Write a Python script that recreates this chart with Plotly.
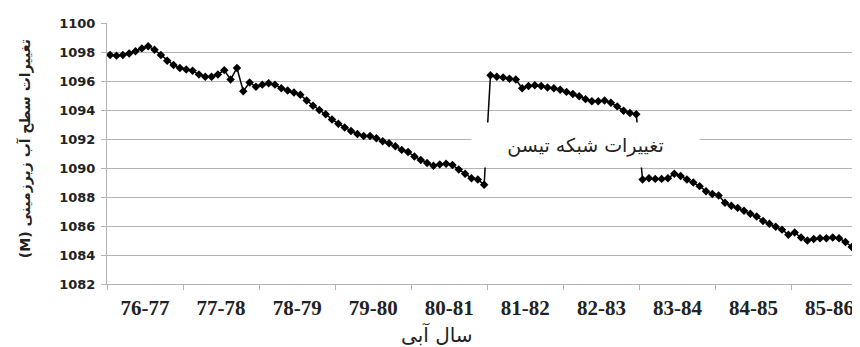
import plotly.graph_objects as go

# ---- data ----
water_years = ["76-77", "77-78", "78-79", "79-80", "80-81",
               "81-82", "82-83", "83-84", "84-85", "85-86"]

level_76_77 = [1097.8, 1097.75, 1097.8, 1097.9, 1098.05, 1098.25, 1098.4, 1098.15, 1097.8, 1097.4, 1097.1, 1096.9]
level_77_78 = [1096.8, 1096.7, 1096.45, 1096.3, 1096.3, 1096.45, 1096.75, 1096.1, 1096.9, 1095.3, 1095.9, 1095.6]
level_78_79 = [1095.75, 1095.85, 1095.75, 1095.5, 1095.35, 1095.2, 1095.05, 1094.65, 1094.3, 1094.0, 1093.7, 1093.35]
level_79_80 = [1093.05, 1092.8, 1092.55, 1092.35, 1092.2, 1092.2, 1092.05, 1091.85, 1091.7, 1091.5, 1091.25, 1091.1]
level_80_81 = [1090.8, 1090.55, 1090.35, 1090.15, 1090.25, 1090.3, 1090.2, 1089.9, 1089.6, 1089.3, 1089.2, 1088.85]
level_81_82 = [1096.4, 1096.3, 1096.25, 1096.15, 1096.1, 1095.5, 1095.65, 1095.7, 1095.65, 1095.55, 1095.5, 1095.4]
level_82_83 = [1095.25, 1095.1, 1094.95, 1094.75, 1094.6, 1094.6, 1094.65, 1094.5, 1094.25, 1093.95, 1093.8, 1093.7]
level_83_84 = [1089.2, 1089.3, 1089.25, 1089.25, 1089.3, 1089.6, 1089.45, 1089.2, 1089.0, 1088.75, 1088.4, 1088.2]
level_84_85 = [1088.1, 1087.6, 1087.4, 1087.25, 1087.05, 1086.85, 1086.65, 1086.35, 1086.15, 1085.95, 1085.75, 1085.4]
level_85_86 = [1085.55, 1085.2, 1085.0, 1085.1, 1085.15, 1085.15, 1085.2, 1085.15, 1084.9, 1084.55, 1084.15, 1083.8]

y_ticks = [1082, 1084, 1086, 1088, 1090, 1092, 1094, 1096, 1098, 1100]

y_title = "(M) تغییرات سطح آب زیرزمینی"
x_title = "سال آبی"
note_text = "تغییرات شبکه تیسن"

# ---- build ----
levels = (level_76_77 + level_77_78 + level_78_79 + level_79_80 + level_80_81 +
          level_81_82 + level_82_83 + level_83_84 + level_84_85 + level_85_86)
months = list(range(len(levels)))
n_years = len(water_years)
boundaries = [12 * k - 0.5 for k in range(n_years + 1)]
centers = [12 * k + 5.5 for k in range(n_years)]
x_range = [-0.5, 118.3]

grid_c = "#b4b4b4"

fig = go.Figure()
fig.add_trace(go.Scatter(
    x=months, y=levels, mode="lines+markers",
    line=dict(color="black", width=1.5),
    marker=dict(symbol="diamond", size=6.5, color="black"),
    showlegend=False, hoverinfo="skip",
))
# invisible trace to activate the label axis
fig.add_trace(go.Scatter(x=[centers[0]], y=[levels[0]], xaxis="x2",
                         mode="markers", marker=dict(opacity=0),
                         showlegend=False, hoverinfo="skip"))

fig.update_layout(
    width=860, height=347,
    margin=dict(l=99, r=8, t=15, b=71),
    paper_bgcolor="white", plot_bgcolor="white",
    xaxis=dict(
        range=x_range, tickmode="array", tickvals=boundaries,
        ticktext=["" for _ in boundaries],
        ticks="outside", ticklen=5, tickcolor=grid_c,
        showgrid=False, showline=True, linecolor=grid_c, linewidth=1,
        zeroline=False,
    ),
    xaxis2=dict(
        range=x_range, overlaying="x", side="bottom", anchor="y",
        tickmode="array", tickvals=centers, ticktext=water_years,
        ticks="", showgrid=False, showline=False, zeroline=False,
        ticklabelstandoff=9,
        tickfont=dict(family="Liberation Serif", size=21, color="#222222", weight="bold"),
    ),
    yaxis=dict(
        range=[1082, 1100], tickmode="array", tickvals=y_ticks,
        ticks="outside", ticklen=5, tickcolor=grid_c,
        showgrid=True, gridcolor=grid_c, gridwidth=1,
        showline=True, linecolor=grid_c, linewidth=1, zeroline=False,
        ticklabelstandoff=3,
        tickfont=dict(family="DejaVu Sans", size=13, color="#222222", weight="bold"),
    ),
)

fig.add_annotation(
    x=75.0, y=1091.6, xref="x", yref="y", text=note_text, showarrow=False,
    width=227, height=44, bgcolor="white", borderpad=0,
    font=dict(family="DejaVu Sans", size=19, color="#222222"),
)
fig.add_annotation(
    x=-0.109, y=0.52, xref="paper", yref="paper", text=y_title, showarrow=False,
    textangle=-90, xanchor="center", yanchor="middle",
    font=dict(family="DejaVu Sans", size=14, color="#222222", weight="bold"),
)
fig.add_annotation(
    x=(437 - 107) / 753, y=-0.195, xref="paper", yref="paper", text=x_title,
    showarrow=False, xanchor="center", yanchor="middle",
    font=dict(family="DejaVu Sans", size=20, color="#222222"),
)

fig.write_html("out.html")
